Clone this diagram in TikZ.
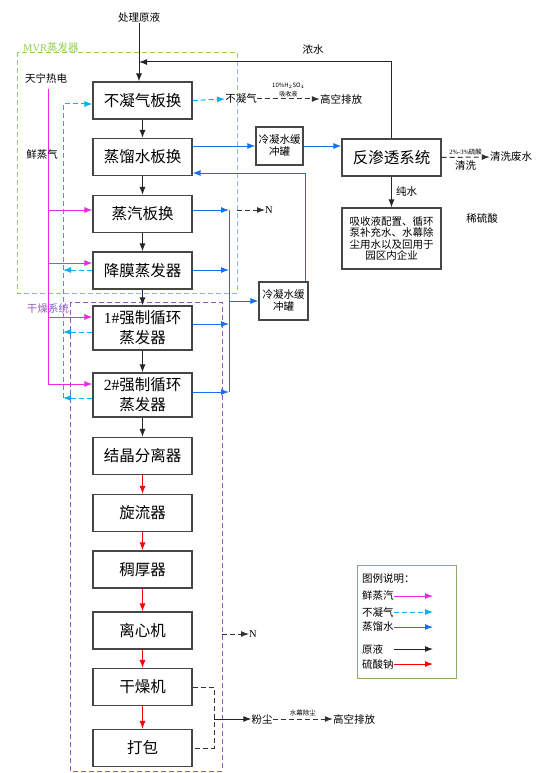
\documentclass[tikz,border=0pt]{standalone}
\usepackage{fontspec}
\setmainfont{Noto Sans CJK SC}
\newfontfamily\lat{Liberation Serif}
\usetikzlibrary{arrows.meta,positioning}

\definecolor{steamc}{RGB}{240,40,230}
\definecolor{gasc}{RGB}{0,176,240}
\definecolor{waterc}{RGB}{25,110,240}
\definecolor{mvrc}{RGB}{146,208,80}
\definecolor{dryc}{RGB}{140,90,190}
\definecolor{boxc}{RGB}{70,70,70}

\tikzset{
  unit/.style={draw=boxc, line width=1.1pt, minimum width=99pt, minimum height=37pt,
    inner sep=0pt, align=center, font=\fontsize{15.5}{20}\selectfont},
  tank/.style={draw=boxc, line width=1.1pt, minimum height=38pt, inner sep=0pt,
    align=center, font=\fontsize{10.5}{12}\selectfont},
  lbl/.style={inner sep=0pt, font=\fontsize{10.5}{12}\selectfont},
  smalllbl/.style={inner sep=0pt, align=center, font=\fontsize{6.5}{8}\selectfont},
  steam/.style={draw=steamc, line width=1pt, ->},
  gas/.style={draw=gasc, line width=1pt, dash pattern=on 5pt off 3pt, ->},
  water/.style={draw=waterc, line width=1pt, ->},
  feed/.style={draw=black!85, line width=1pt, ->},
  salt/.style={draw=red, line width=1pt, ->},
  vent/.style={draw=black!80, line width=1pt, dash pattern=on 5pt off 3pt},
  >={Latex[length=8pt,width=6pt]}
}

\begin{document}
\begin{tikzpicture}[x=1pt,y=-1pt]
    \useasboundingbox (0,0) rectangle (538,773);
    \def\cx{142.5}
    % frames
    \draw[mvrc, line width=0.9pt, dash pattern=on 5pt off 3pt] (17,52) rectangle (237,293);
    \draw[dryc, line width=0.9pt, dash pattern=on 5pt off 3pt] (70,302) rectangle (222,771);
    \node[lbl, text=mvrc, anchor=south west] (mvr) at (23,53) {{\lat MVR}蒸发器};
    \node[lbl, text=dryc] (gzxt) at (48,308) {干燥系统};

    % main column
    \node[lbl] (cl) at (139,18) {处理原液};
    \node[unit] (bn) at (\cx,100.5) {不凝气板换};
    \node[unit] (zl) at (\cx,157) {蒸馏水板换};
    \node[unit] (zq) at (\cx,214) {蒸汽板换};
    \node[unit] (jm) at (\cx,270.5) {降膜蒸发器};
    \node[unit, minimum height=44pt] (fc1) at (\cx,328) {{\lat 1\#}强制循环\\蒸发器};
    \node[unit, minimum height=44pt] (fc2) at (\cx,395) {{\lat 2\#}强制循环\\蒸发器};
    \node[unit] (jj) at (\cx,456) {结晶分离器};
    \node[unit] (xl) at (\cx,513) {旋流器};
    \node[unit] (ch) at (\cx,569.5) {稠厚器};
    \node[unit] (lx) at (\cx,630.5) {离心机};
    \node[unit] (gz) at (\cx,687) {干燥机};
    \node[unit] (db) at (\cx,748) {打包};

    % right side
    \node[tank, minimum width=47pt] (lg1) at (279.5,146) {冷凝水缓\\冲罐};
    \node[tank, minimum width=49pt] (lg2) at (283.5,301) {冷凝水缓\\冲罐};
    \node[unit] (ro) at (391.5,157.5) {反渗透系统};
    \node[unit, minimum height=61pt, font=\fontsize{10.5}{11.5}\selectfont] (use) at (391.5,238.5)
        {吸收液配置、循环\\泵补充水、水幕除\\尘用水以及回用于\\园区内企业};
    \node[lbl] (xls) at (482,218) {稀硫酸};
    \node[lbl] (qx) at (511,157) {清洗废水};
    \node[lbl] (bnq) at (241,99) {不凝气};
    \node[lbl] (gk1) at (341,99) {高空排放};
    \node[lbl] (n1) at (269,210) {\lat N};
    \node[lbl] (n2) at (253,634) {\lat N};
    \node[lbl] (fc) at (262,719) {粉尘};
    \node[lbl] (gk2) at (354,719) {高空排放};

    % raw liquor and sodium sulphate
    \draw[feed] (cl) -- (cl |- bn.north);
    \foreach \a/\b in {bn/zl, zl/zq, zq/jm, jm/fc1, fc1/fc2, fc2/jj}
        \draw[feed] (\a.south) -- (\b.north);
    \foreach \a/\b in {jj/xl, xl/ch, ch/lx, lx/gz, gz/db}
        \draw[salt] (\a.south) -- (\b.north);

    % fresh steam
    \node[lbl] (tn) at (46,79) {天宁热电};
    \coordinate (ps) at (48,89);
    \foreach \n/\y in {zq/210, jm/263, fc1/317, fc2/384} {
        \coordinate (s-\n) at (48,\y);
        \draw[steam] (s-\n) -- (s-\n -| \n.west);
    }
    \draw[steam,-] (ps) -- (s-fc2);
    \node[lbl] (xzq) at (42,155) {鲜蒸气};

    % non-condensable gas
    \coordinate (g0) at (63,104);
    \foreach \n/\y in {jm/270, fc1/332, fc2/398} {
        \coordinate (g-\n) at (63,\y);
        \draw[gas] (g-\n -| \n.west) -- (g-\n);
    }
    \draw[gas] (g-fc2) -- (g0) -- (g0 -| bn.west);
    \draw[gas] (bn.east) -- (bnq.west);
    \draw[vent,->] (bnq.east) -- (gk1.west)
        node[midway, above=2pt, smalllbl, font=\fontsize{6}{9}\selectfont] {10\%H$_2$SO$_4$\\吸收液};

    % distilled water
    \foreach \n/\y in {zq/210, jm/270, fc1/324, fc2/392} {
        \coordinate (w-\n) at (229,\y);
        \draw[water] (w-\n -| \n.east) -- (w-\n);
    }
    \draw[water,-] (w-zq) -- (w-fc2);
    \draw[water] (w-zq |- lg2.west) -- (lg2.west);
    \coordinate (wr) at (305,173);
    \draw[water] (lg2.north -| wr) -- (wr) -- (wr -| zl.east);
    \draw[water] (zl.east |- lg1.west) -- (lg1.west);
    \draw[water] (lg1.east) -- (lg1.east -| ro.west);

    % reverse osmosis
    \coordinate (ns) at (139,62);
    \draw[feed] (ro.north) |- (ns);
    \node[lbl] (nsl) at (313,50) {浓水};
    \draw[feed] (ro.south) -- (use.north) node[midway, right=4pt, lbl] {纯水};
    \draw[vent,->] (ro.east) -- (qx.west)
        node[midway, above=2pt, smalllbl] {{\lat 2\%-3\%}硫酸}
        node[midway, below=3pt, lbl] {清洗};

    % N and dust
    \coordinate (n1s) at (237,210);
    \coordinate (n2s) at (222,634);
    \draw[vent,->] (n1s) -- (n1.west);
    \draw[vent,->] (n2s) -- (n2.west);
    \coordinate (dj) at (214,719);
    \draw[vent] (gz.east) -| (dj) |- (db.east);
    \draw[feed] (dj) -- (fc.west);
    \draw[vent,->] (fc.east) -- (gk2.west) node[midway, above=2pt, smalllbl] {水幕除尘};

    % legend
    \draw[mvrc!60!gray, line width=1pt] (357,565) rectangle (456,678);
    \node[lbl, anchor=west] (key) at (362,579) {图例说明：};
    \foreach \t/\s/\y in {鲜蒸汽/steam/596, 不凝气/gas/612, 蒸馏水/water/627, 原液/feed/649, 硫酸钠/salt/664} {
        \node[lbl, anchor=west] (key-\s) at (362,\y) {\t};
        \coordinate (ka-\s) at (394,\y);
        \coordinate (kb-\s) at (433,\y);
        \draw[\s] (ka-\s) -- (kb-\s);
    }

\end{tikzpicture}
\end{document}
